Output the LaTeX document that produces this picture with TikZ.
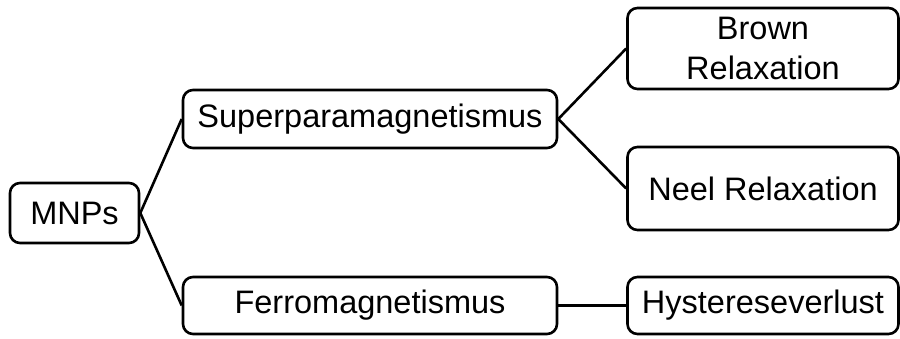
\documentclass[tikz,border=0pt]{standalone}
\usepackage{fontspec}
\setmainfont{Liberation Sans}

\begin{document}
\begin{tikzpicture}[x=1pt,y=-1pt,
    box/.style={draw,line width=2.6pt,rounded corners=10pt,inner sep=0pt,
      align=center,font=\fontsize{32.5}{40}\selectfont},
    link/.style={line width=2.6pt}]
    \useasboundingbox (0,0) rectangle (900,338);

    \node[box,minimum width=129pt,minimum height=60pt] (mnp) at (74.5,213) {MNPs};
    \node[box,minimum width=374pt,minimum height=58pt] (spm) at (370,119) {Superparamagnetismus};
    \node[box,minimum width=374pt,minimum height=57pt] (fm) at (370,305.5) {Ferromagnetismus};
    \node[box,minimum width=271pt,minimum height=81pt] (brown) at (763,48.5) {Brown\\Relaxation};
    \node[box,minimum width=271pt,minimum height=83pt] (neel) at (763,188.5) {Neel Relaxation};
    \node[box,minimum width=271pt,minimum height=57pt] (hyst) at (763,305.5) {Hystereseverlust};

    \draw[link] (mnp.east) -- (spm.west);
    \draw[link] (mnp.east) -- (fm.west);
    \draw[link] (spm.east) -- (brown.west);
    \draw[link] (spm.east) -- (neel.west);
    \draw[link] (fm.east) -- (hyst.west);
  \end{tikzpicture}
\end{document}
